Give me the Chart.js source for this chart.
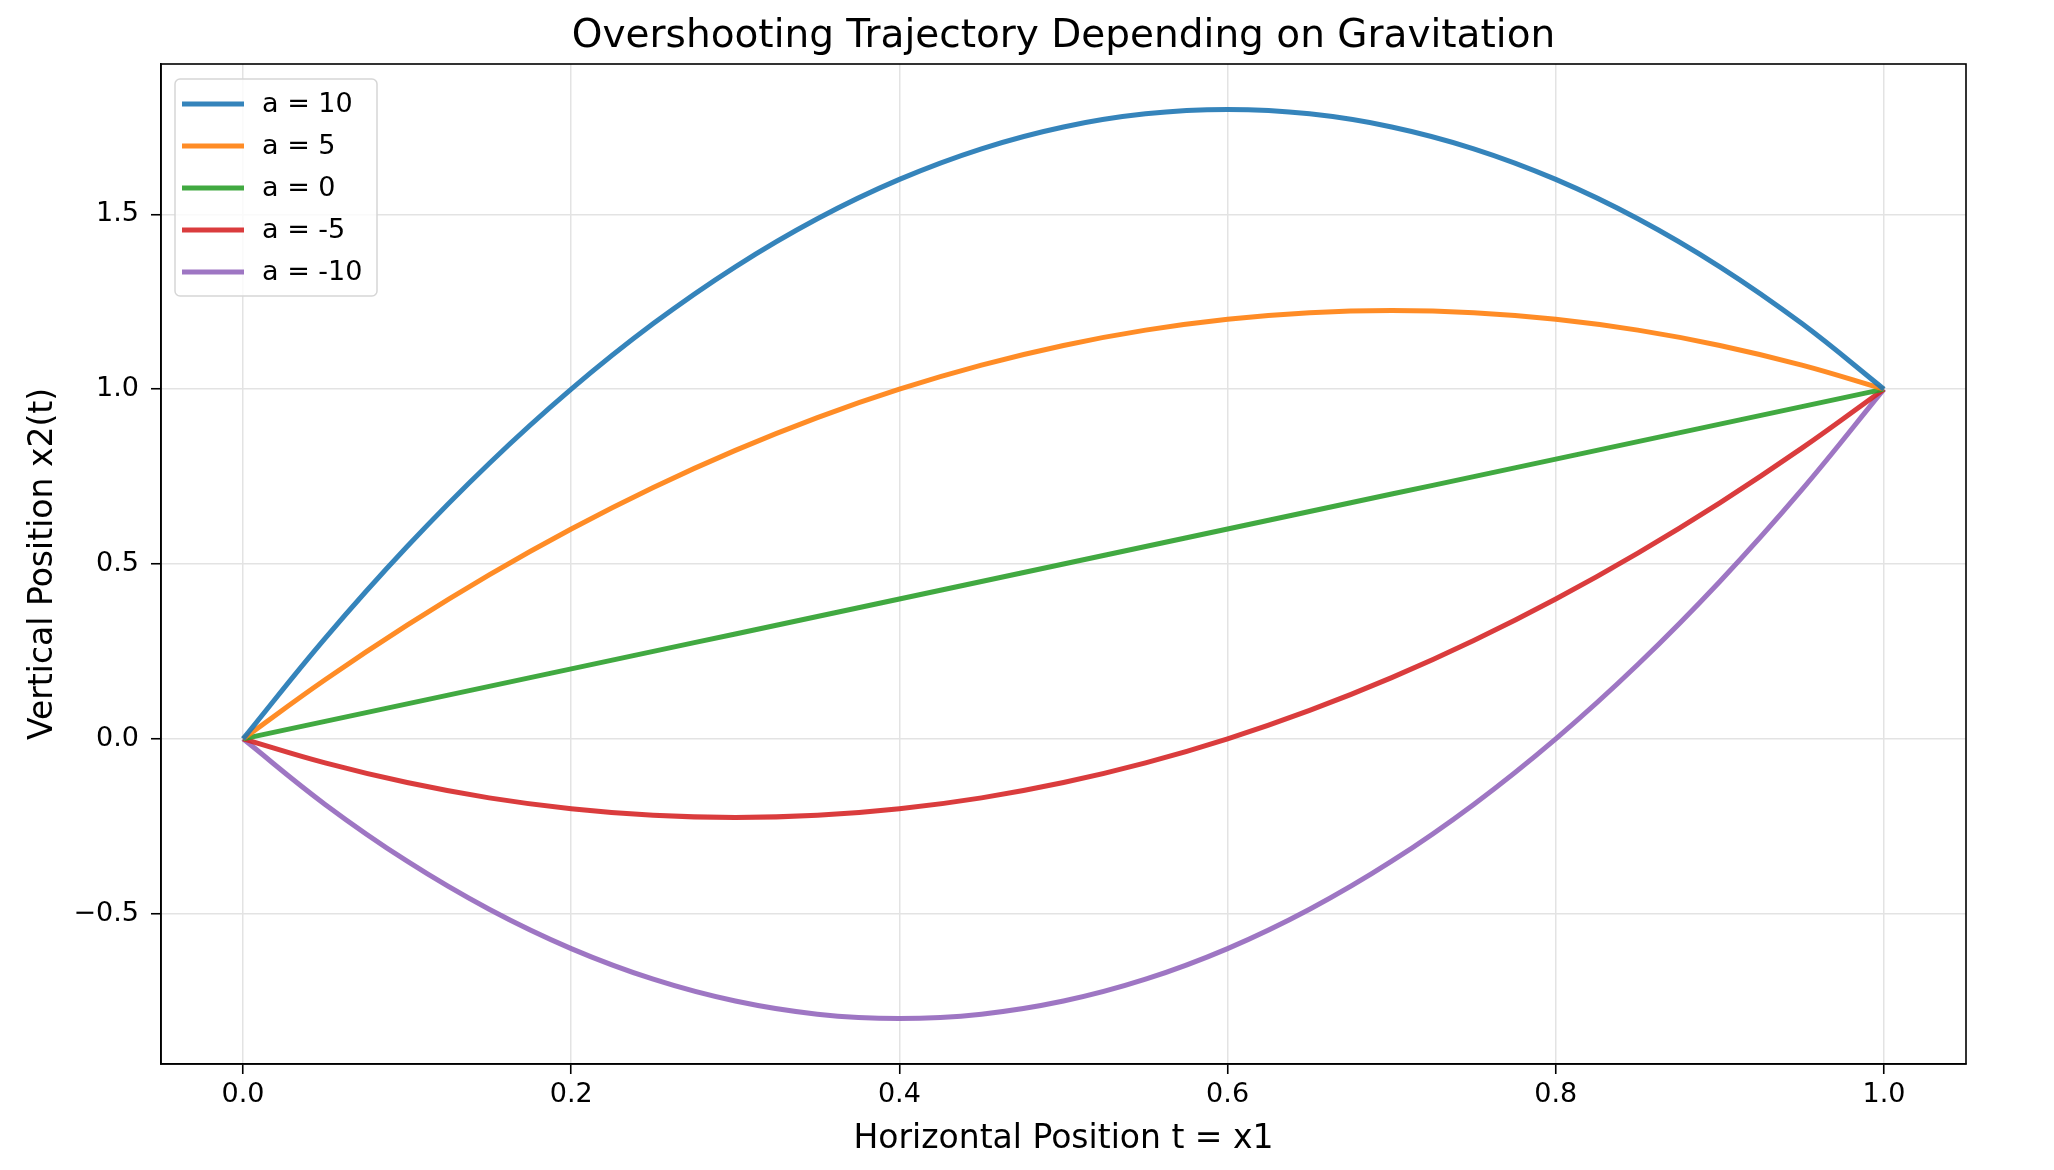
<!DOCTYPE html>
<html>
<head>
  <title>Overshooting Trajectory</title>
  <script src="https://cdn.jsdelivr.net/npm/chart.js@4/dist/chart.umd.min.js"></script>
  <style>
    html, body { margin: 0; padding: 0; background: #fff; }
    #wrap { width: 2054px; height: 1170px; }
  </style>
</head>
<body>
<div id="wrap">
  <canvas id="myChart"></canvas>
</div>

<script>
  // horizontal position t = x1, sampled every 0.05
  const tValues = [0, 0.05, 0.1, 0.15, 0.2, 0.25, 0.3, 0.35, 0.4, 0.45, 0.5,
                   0.55, 0.6, 0.65, 0.7, 0.75, 0.8, 0.85, 0.9, 0.95, 1.0];

  // vertical position x2(t)
  const aPlus10  = [0, 0.2875, 0.55, 0.7875, 1.0, 1.1875, 1.35, 1.4875, 1.6, 1.6875, 1.75,
                    1.7875, 1.8, 1.7875, 1.75, 1.6875, 1.6, 1.4875, 1.35, 1.1875, 1.0];
  const aPlus5   = [0, 0.1688, 0.325, 0.4688, 0.6, 0.7188, 0.825, 0.9188, 1.0, 1.0688, 1.125,
                    1.1688, 1.2, 1.2188, 1.225, 1.2188, 1.2, 1.1688, 1.125, 1.0688, 1.0];
  const aZero    = [0, 0.05, 0.1, 0.15, 0.2, 0.25, 0.3, 0.35, 0.4, 0.45, 0.5,
                    0.55, 0.6, 0.65, 0.7, 0.75, 0.8, 0.85, 0.9, 0.95, 1.0];
  const aMinus5  = [0, -0.0688, -0.125, -0.1688, -0.2, -0.2188, -0.225, -0.2188, -0.2, -0.1688, -0.125,
                    -0.0688, 0, 0.0813, 0.175, 0.2813, 0.4, 0.5313, 0.675, 0.8313, 1.0];
  const aMinus10 = [0, -0.1875, -0.35, -0.4875, -0.6, -0.6875, -0.75, -0.7875, -0.8, -0.7875, -0.75,
                    -0.6875, -0.6, -0.4875, -0.35, -0.1875, 0, 0.2125, 0.45, 0.7125, 1.0];

  const seriesLabels = ['a = 10', 'a = 5', 'a = 0', 'a = -5', 'a = -10'];
  const seriesValues = [aPlus10, aPlus5, aZero, aMinus5, aMinus10];
  const seriesColors = ['rgba(31,119,180,0.9)', 'rgba(255,127,14,0.9)', 'rgba(44,160,44,0.9)',
                        'rgba(214,39,40,0.9)', 'rgba(148,103,189,0.9)'];

  const xTicks = [0.0, 0.2, 0.4, 0.6, 0.8, 1.0];
  const yTicks = [-0.5, 0.0, 0.5, 1.0, 1.5];

  const chartTitle = 'Overshooting Trajectory Depending on Gravitation';
  const FONT = "'DejaVu Sans', 'Liberation Sans', sans-serif";

  const datasets = seriesValues.map((vals, i) => ({
    label: seriesLabels[i],
    data: vals.map((y, k) => ({ x: tValues[k], y: y })),
    borderColor: seriesColors[i],
    backgroundColor: seriesColors[i],
    borderWidth: 5,
    pointRadius: 0,
    tension: 0.4,
    fill: false
  }));

  // full box round the plot area, plus the title centred over it
  const frame = {
    id: 'frame',
    afterDatasetsDraw(chart) {
      const { ctx, chartArea: a } = chart;
      ctx.save();
      ctx.strokeStyle = '#000';
      ctx.lineWidth = 1.6;
      ctx.strokeRect(a.left, a.top, a.right - a.left, a.bottom - a.top);
      ctx.font = '39px ' + FONT;
      ctx.fillStyle = '#000';
      ctx.textAlign = 'center';
      ctx.textBaseline = 'middle';
      ctx.fillText(chartTitle, (a.left + a.right) / 2, 37);
      ctx.restore();
    }
  };

  // legend box in the upper left corner of the plot
  const boxLegend = {
    id: 'boxLegend',
    afterDraw(chart) {
      const { ctx, chartArea: a } = chart;
      const x0 = a.left + 14, y0 = a.top + 15;
      const w = 202, h = 217, rowH = 42;
      ctx.save();
      ctx.beginPath();
      ctx.roundRect(x0, y0, w, h, 5);
      ctx.fillStyle = 'rgba(255,255,255,0.8)';
      ctx.fill();
      ctx.strokeStyle = '#d6d6d6';
      ctx.lineWidth = 1.5;
      ctx.stroke();
      ctx.font = '27px ' + FONT;
      ctx.textBaseline = 'middle';
      ctx.fillStyle = '#000';
      chart.data.datasets.forEach((ds, i) => {
        const y = y0 + 25 + i * rowH;
        ctx.beginPath();
        ctx.moveTo(x0 + 7, y);
        ctx.lineTo(x0 + 69, y);
        ctx.strokeStyle = ds.borderColor;
        ctx.lineWidth = 5;
        ctx.stroke();
        ctx.fillText(ds.label, x0 + 87, y + 1);
      });
      ctx.restore();
    }
  };

  new Chart(document.getElementById('myChart').getContext('2d'), {
    type: 'line',
    data: { datasets: datasets },
    plugins: [frame, boxLegend],
    options: {
      responsive: true,
      maintainAspectRatio: false,
      animation: false,
      layout: { padding: { top: 64, right: 88, bottom: 0, left: 0 } },
      plugins: {
        legend: { display: false },
        tooltip: { enabled: false },
        title: { display: false }
      },
      scales: {
        x: {
          type: 'linear',
          min: -0.05,
          max: 1.05,
          afterFit: s => { s.height = 106; },
          afterBuildTicks: s => { s.ticks = xTicks.map(v => ({ value: v })); },
          grid: { color: '#e3e3e3', lineWidth: 1.5, tickLength: 10, tickColor: '#000', tickWidth: 1.6 },
          border: { color: '#000', width: 1.6 },
          ticks: {
            color: '#000',
            padding: 5,
            font: { family: FONT, size: 27 },
            callback: v => v.toFixed(1)
          },
          title: {
            display: true,
            text: 'Horizontal Position t = x1',
            color: '#000',
            font: { family: FONT, size: 33 },
            padding: { top: 0, bottom: 11 }
          }
        },
        y: {
          type: 'linear',
          min: -0.93,
          max: 1.93,
          afterFit: s => { s.width = 161; },
          afterBuildTicks: s => { s.ticks = yTicks.map(v => ({ value: v })); },
          grid: { color: '#e3e3e3', lineWidth: 1.5, tickLength: 10, tickColor: '#000', tickWidth: 1.6 },
          border: { color: '#000', width: 1.6 },
          ticks: {
            color: '#000',
            padding: 12,
            font: { family: FONT, size: 27 },
            callback: v => (v < 0 ? '\u2212' + Math.abs(v).toFixed(1) : v.toFixed(1))
          },
          title: {
            display: true,
            text: 'Vertical Position x2(t)',
            color: '#000',
            font: { family: FONT, size: 33 },
            padding: { top: 24, bottom: 0 }
          }
        }
      }
    }
  });
</script>
</body>
</html>
